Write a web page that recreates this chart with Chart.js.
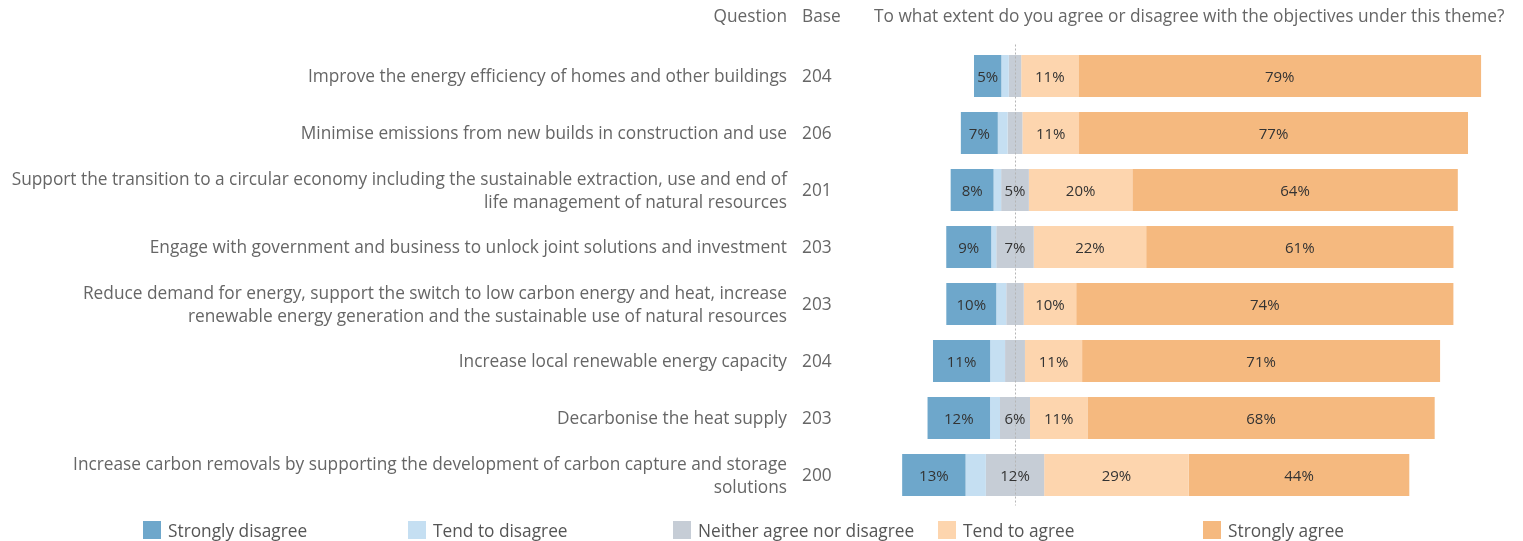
<!DOCTYPE html>
<html>
<head>
<meta charset="utf-8">
<script src="https://cdn.jsdelivr.net/npm/chart.js@4"></script>
<style>
  html, body { margin: 0; padding: 0; background: #fff; }
  #wrap { position: relative; width: 1523px; height: 541px; }
  #legend { position: absolute; left: 143px; top: 521px; font: 17.3px "Open Sans", sans-serif; color: #555; }
  .item { position: absolute; top: 0; white-space: nowrap; display: flex; align-items: center; height: 18px; }
  .box { width: 18px; height: 18px; margin-right: 7px; }
</style>
</head>
<body>
<div id="wrap">
  <canvas id="chart"></canvas>
  <div id="legend"></div>
</div>
<script>
const questions = [
  ['Improve the energy efficiency of homes and other buildings'],
  ['Minimise emissions from new builds in construction and use'],
  ['Support the transition to a circular economy including the sustainable extraction, use and end of', 'life management of natural resources'],
  ['Engage with government and business to unlock joint solutions and investment'],
  ['Reduce demand for energy, support the switch to low carbon energy and heat, increase', 'renewable energy generation and the sustainable use of natural resources'],
  ['Increase local renewable energy capacity'],
  ['Decarbonise the heat supply'],
  ['Increase carbon removals by supporting the development of carbon capture and storage', 'solutions']
];
const bases = [204, 206, 201, 203, 203, 204, 203, 200];

const responses = ['Strongly disagree', 'Tend to disagree', 'Neither agree nor disagree', 'Tend to agree', 'Strongly agree'];
const colors = ['#6ea7cb', '#c5dff2', '#c6cdd6', '#fdd5ae', '#f5b97f'];

// percentages per response, one value per question
const stronglyDisagree = [5.39, 7.28, 8.46, 8.87, 9.85, 11.27, 12.32, 12.5];
const tendDisagree     = [1.47, 1.94, 1.49, 0.99, 1.97, 2.94, 1.97, 4.0];
const neither          = [2.45, 2.91, 5.47, 7.39, 3.45, 3.92, 5.91, 11.5];
const tendAgree        = [11.27, 11.17, 20.40, 22.17, 10.34, 11.27, 11.33, 28.5];
const stronglyAgree    = [79.41, 76.70, 64.18, 60.59, 74.38, 70.59, 68.47, 43.5];

// diverging layout: neutral centred on zero
const spans = questions.map((q, i) => {
  const h = neither[i] / 2;
  return [
    [-(h + tendDisagree[i] + stronglyDisagree[i]), -(h + tendDisagree[i])],
    [-(h + tendDisagree[i]), -h],
    [-h, h],
    [h, h + tendAgree[i]],
    [h + tendAgree[i], h + tendAgree[i] + stronglyAgree[i]]
  ];
});
const values = [stronglyDisagree, tendDisagree, neither, tendAgree, stronglyAgree];

const datasets = responses.map((r, k) => ({
  label: r,
  data: spans.map(s => s[k]),
  backgroundColor: colors[k],
  borderWidth: 0,
  barPercentage: 0.74,
  categoryPercentage: 1
}));

const FONT = '"Open Sans", sans-serif';
const SIZE = 17.3;

const extras = {
  id: 'extras',
  afterDatasetsDraw(chart) {
    const { ctx, chartArea } = chart;
    const x = chart.scales.x, y = chart.scales.y;
    ctx.save();
    // zero line
    const zx = Math.round(x.getPixelForValue(0)) + 0.5;
    ctx.strokeStyle = '#b5b5b5';
    ctx.lineWidth = 1;
    ctx.setLineDash([2, 2]);
    ctx.beginPath();
    ctx.moveTo(zx, chartArea.top - 3);
    ctx.lineTo(zx, chartArea.bottom + 2);
    ctx.stroke();
    ctx.setLineDash([]);

    // segment labels
    ctx.font = '15px ' + FONT;
    ctx.fillStyle = '#333';
    ctx.textAlign = 'center';
    ctx.textBaseline = 'middle';
    chart.data.datasets.forEach((ds, k) => {
      chart.getDatasetMeta(k).data.forEach((bar, i) => {
        const v = values[k][i];
        if (v < 4.5) return;
        ctx.fillText(Math.round(v) + '%', (bar.x + bar.base) / 2, bar.y + 1.5);
      });
    });

    // base column
    ctx.font = SIZE + 'px ' + FONT;
    ctx.fillStyle = '#666';
    ctx.textAlign = 'left';
    bases.forEach((b, i) => {
      ctx.fillText(String(b), 802, y.getPixelForValue(i) + 1.5);
    });

    // headers
    ctx.textAlign = 'right';
    ctx.fillText('Question', 787, 17);
    ctx.textAlign = 'left';
    ctx.fillText('Base', 802, 17);
    ctx.fillText('To what extent do you agree or disagree with the objectives under this theme?', 874, 17);
    ctx.restore();
  }
};

new Chart(document.getElementById('chart'), {
  type: 'bar',
  data: { labels: questions.map((q, i) => i), datasets: datasets },
  options: {
    indexAxis: 'y',
    responsive: true,
    maintainAspectRatio: false,
    animation: false,
    layout: { padding: { top: 47.5, bottom: 37.5, left: 0, right: 11 } },
    scales: {
      x: {
        display: false,
        min: -28,
        max: 98
      },
      y: {
        stacked: true,
        grid: { display: false, drawTicks: false },
        border: { display: false },
        ticks: {
          padding: 86,
          labelOffset: 1.5,
          color: '#666',
          font: { family: FONT, size: SIZE, lineHeight: 1.33 },
          callback: (v, i) => questions[i]
        },
        afterFit: (scale) => {
          scale.width = 873;
          scale.paddingTop = 0;
          scale.paddingBottom = 0;
        }
      }
    },
    plugins: {
      legend: { display: false },
      tooltip: { enabled: false }
    }
  },
  plugins: [extras]
});

const legend = document.getElementById('legend');
responses.forEach((r, k) => {
  const el = document.createElement('div');
  el.className = 'item';
  el.style.left = (k * 265) + 'px';
  el.innerHTML = '<span class="box" style="background:' + colors[k] + '"></span>' + r;
  legend.appendChild(el);
});
</script>
</body>
</html>
